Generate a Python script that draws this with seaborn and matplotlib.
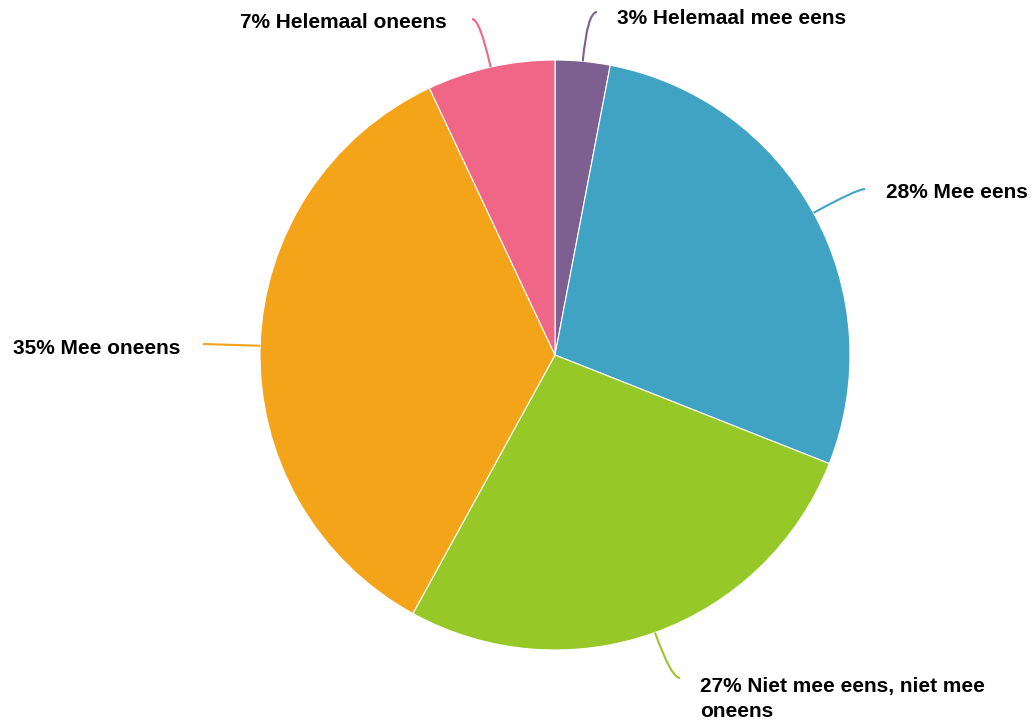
import numpy as np
import matplotlib
matplotlib.use('Agg')
import matplotlib.pyplot as plt
import seaborn as sns
from matplotlib.path import Path
from matplotlib.patches import PathPatch

# data (clockwise from 12 o'clock)
labels = ['Helemaal mee eens', 'Mee eens', 'Niet mee eens, niet mee\noneens',
          'Mee oneens', 'Helemaal oneens']
shares = [3, 28, 27, 35, 7]
colors = ['#7D608F', '#41A3C3', '#96C927', '#F4A419', '#F06686']

# label layout in pixels (x, y from top), alignment
label_pos = [(617, 18, 'left'), (886, 193, 'left'), (700, 699, 'left'),
             (180, 349, 'right'), (447, 22, 'right')]
line_end = [(597, 12), (865, 189), (680, 678), (203, 344), (472, 19)]

W, H = 1036, 724
cx, cy, R = 555, H - 355, 295

sns.set_theme(style='white')
plt.rcParams['font.family'] = ['Liberation Sans', 'DejaVu Sans']

fig = plt.figure(figsize=(W / 100, H / 100), dpi=100)
ax = fig.add_axes([0, 0, 1, 1])

wedges, _ = ax.pie(shares, colors=colors, startangle=90, counterclock=False,
                   center=(cx, cy), radius=R,
                   wedgeprops=dict(edgecolor='white', linewidth=0.8))
ax.set_xlim(0, W)
ax.set_ylim(0, H)
ax.set_aspect('equal')
ax.axis('off')

for w, lab, val, (lx, ly, ha), (ex, ey), col in zip(wedges, labels, shares,
                                                     label_pos, line_end, colors):
    mid = np.deg2rad((w.theta1 + w.theta2) / 2)
    d = np.array([np.cos(mid), np.sin(mid)])
    a = np.array([cx, cy]) + R * d
    e = np.array([ex, H - ey])
    if abs(d[1]) > 0.2:
        t = (e[1] - a[1]) / d[1]
        c = a + t * d
        path = Path([a, c, e], [Path.MOVETO, Path.CURVE3, Path.CURVE3])
    else:
        path = Path([a, e], [Path.MOVETO, Path.LINETO])
    ax.add_patch(PathPatch(path, facecolor='none', edgecolor=col, lw=1.5))
    ax.text(lx, H - ly, f'{val}% {lab}', ha=ha, va='center', fontsize=15,
            fontweight='bold', color='black', linespacing=1.4)

fig.savefig('out.png', dpi=100)
